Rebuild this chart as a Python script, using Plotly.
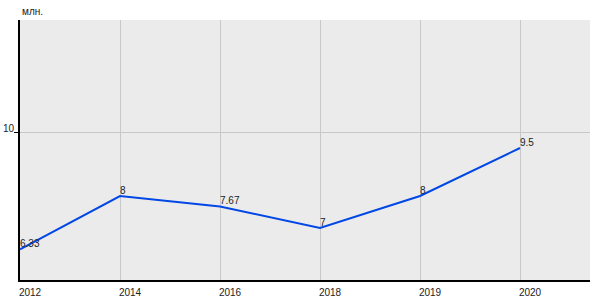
import plotly.graph_objects as go

years = ["2012", "2014", "2016", "2018", "2019", "2020"]
values = [6.33, 8, 7.67, 7, 8, 9.5]
labels = ["6.33", "8", "7.67", "7", "8", "9.5"]
unit = "млн."

fig = go.Figure()
fig.add_trace(go.Scatter(
    x=years, y=values, mode="lines+text",
    text=labels, textposition="top right",
    textfont=dict(family="Liberation Sans, Arial", size=10, color="#222"),
    line=dict(color="#0047e6", width=2),
    cliponaxis=False, hoverinfo="skip",
))
fig.update_layout(
    width=600, height=300,
    margin=dict(l=20, r=10, t=20, b=20),
    paper_bgcolor="white", plot_bgcolor="#ebebeb",
    showlegend=False,
    font=dict(family="Liberation Sans, Arial", size=10, color="#222"),
    xaxis=dict(type="category", range=[0, 5.7], showgrid=True, gridcolor="#c8c8c8", gridwidth=1,
               showline=True, linecolor="black", linewidth=2, ticks="", zeroline=False,
               tickfont=dict(size=10), ticklabelshift=10, ticklabelstandoff=2, automargin=False),
    yaxis=dict(range=[5.375, 13.5], tickvals=[10], ticktext=["10"], showgrid=True,
               gridcolor="#c8c8c8", gridwidth=1, showline=True, linecolor="black", linewidth=2,
               ticks="outside", ticklen=4, tickcolor="black", zeroline=False,
               tickfont=dict(size=10), ticklabelshift=-4, ticklabelstandoff=-2, automargin=False),
    annotations=[dict(text=unit, xref="paper", yref="paper", x=0, y=1, yshift=1,
                      xanchor="left", yanchor="bottom", showarrow=False,
                      font=dict(size=10, color="#222"))],
)
fig.write_html("out.html")
